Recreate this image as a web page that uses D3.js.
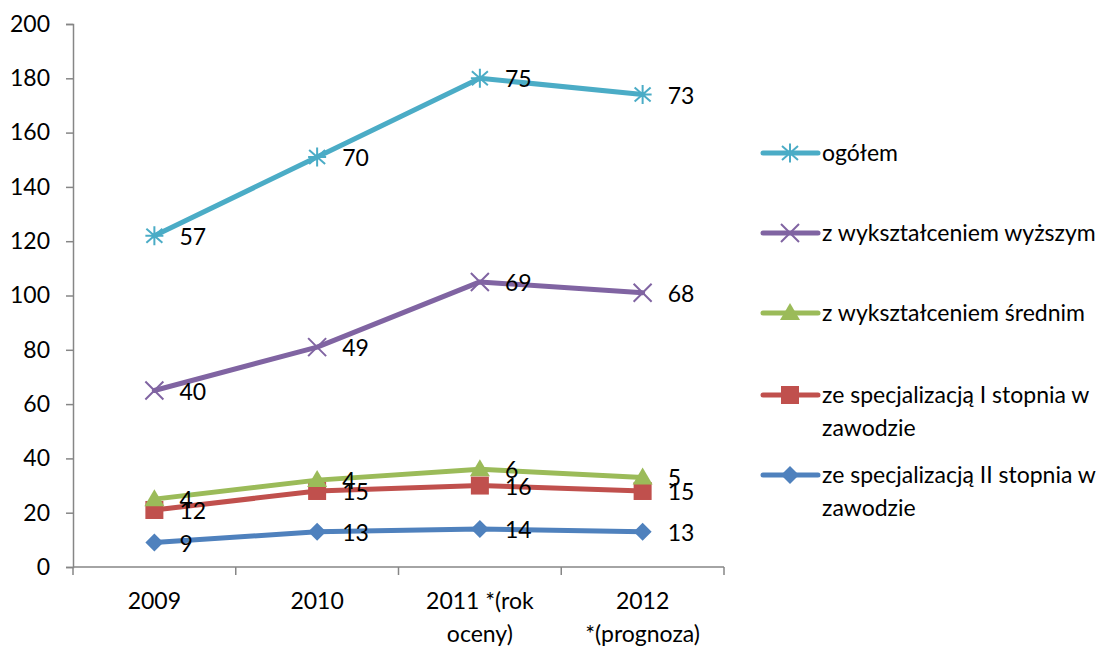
<!DOCTYPE html>
<html>
<head>
<meta charset="utf-8">
<script src="https://cdn.jsdelivr.net/npm/d3@7/dist/d3.min.js"></script>
<style>
  html, body { margin: 0; padding: 0; background: #fff; }
  svg { display: block; font-family: Lato, "Noto Sans", sans-serif; }
  text { fill: #000; font-size: 23px; }
</style>
</head>
<body>
<svg id="chart" width="1119" height="648"></svg>
<script>
// Categories (years) and their axis labels (split into lines)
const categories = ["2009", "2010", "2011", "2012"];
const categoryLabels = [["2009"], ["2010"], ["2011 *(rok", "oceny)"], ["2012", "*(prognoza)"]];

// Series values, stacked from bottom to top
const spec2 = [9, 13, 14, 13];      // ze specjalizacją II stopnia w zawodzie
const spec1 = [12, 15, 16, 15];     // ze specjalizacją I stopnia w zawodzie
const srednie = [4, 4, 6, 5];       // z wykształceniem średnim
const wyzsze = [40, 49, 69, 68];    // z wykształceniem wyższym
const ogolem = [57, 70, 75, 73];    // ogółem

const yTicks = [0, 20, 40, 60, 80, 100, 120, 140, 160, 180, 200];

const series = [
  { key: "spec2", name: ["ze specjalizacją II stopnia w", "zawodzie"], values: spec2, color: "#4F81BD", marker: "diamond" },
  { key: "spec1", name: ["ze specjalizacją I stopnia w", "zawodzie"], values: spec1, color: "#C0504D", marker: "square" },
  { key: "srednie", name: ["z wykształceniem średnim"], values: srednie, color: "#9BBB59", marker: "triangle" },
  { key: "wyzsze", name: ["z wykształceniem wyższym"], values: wyzsze, color: "#8064A2", marker: "x" },
  { key: "ogolem", name: ["ogółem"], values: ogolem, color: "#4BACC6", marker: "star" }
];

const table = categories.map((c, i) => {
  const row = { cat: c };
  series.forEach(s => { row[s.key] = s.values[i]; });
  return row;
});
const stacked = d3.stack().keys(series.map(s => s.key))(table);

const svg = d3.select("#chart");
const axisColor = "#868686";

const x = d3.scaleBand().domain(categories).range([73, 724]).padding(0);
const y = d3.scaleLinear().domain([0, 200]).range([567, 24]);
const cx = c => x(c) + x.bandwidth() / 2;

// Y axis
const yAxis = svg.append("g")
  .attr("transform", "translate(73,0)")
  .call(d3.axisLeft(y).tickValues(yTicks).tickSize(7).tickPadding(16).tickFormat(d3.format("d")));
yAxis.select(".domain").attr("stroke", axisColor).attr("stroke-width", 1.5);
yAxis.selectAll(".tick line").attr("stroke", axisColor).attr("stroke-width", 1.5);
yAxis.selectAll(".tick text").attr("font-size", 23).attr("font-family", "Lato").attr("fill", "#000");

// X axis: line, boundary ticks, multi-line labels
const xAxis = svg.append("g");
xAxis.append("line")
  .attr("x1", x.range()[0]).attr("x2", x.range()[1])
  .attr("y1", y(0)).attr("y2", y(0))
  .attr("stroke", axisColor).attr("stroke-width", 1.5);
const boundaries = categories.map(c => x(c)).concat([x.range()[1]]);
xAxis.selectAll("line.tick").data(boundaries).join("line")
  .attr("class", "tick")
  .attr("x1", d => d).attr("x2", d => d)
  .attr("y1", y(0)).attr("y2", y(0) + 8)
  .attr("stroke", axisColor).attr("stroke-width", 1.5);
xAxis.selectAll("text.cat").data(categories).join("text")
  .attr("class", "cat")
  .attr("text-anchor", "middle")
  .attr("x", d => cx(d))
  .attr("y", 609)
  .each(function(d, i) {
    d3.select(this).selectAll("tspan").data(categoryLabels[i]).join("tspan")
      .attr("x", cx(d))
      .attr("dy", (t, j) => j === 0 ? 0 : 33)
      .text(t => t);
  });

// Marker drawing
function drawMarker(g, type, color) {
  if (type === "diamond") {
    g.append("path").attr("d", "M0,-9L9,0L0,9L-9,0Z").attr("fill", color);
  } else if (type === "square") {
    g.append("rect").attr("x", -9).attr("y", -9).attr("width", 18).attr("height", 18).attr("fill", color);
  } else if (type === "triangle") {
    g.append("path").attr("d", "M0,-10L10,7L-10,7Z").attr("fill", color);
  } else if (type === "x") {
    g.append("path").attr("d", "M-9,-9L9,9M-9,9L9,-9").attr("stroke", color).attr("stroke-width", 2).attr("fill", "none");
  } else if (type === "star") {
    g.append("path").attr("d", "M0,-9.5L0,9.5M-8,-7L8,7M-8,7L8,-7M-9,0L9,0").attr("stroke", color).attr("stroke-width", 2).attr("fill", "none");
  }
}

const line = d3.line().x(d => cx(d.data.cat)).y(d => y(d[1]));

// Lines and markers
stacked.forEach((layer, si) => {
  const s = series[si];
  const g = svg.append("g");
  g.append("path").datum(layer)
    .attr("d", line)
    .attr("fill", "none")
    .attr("stroke", s.color)
    .attr("stroke-width", 5)
    .attr("stroke-linejoin", "round")
    .attr("stroke-linecap", "round");
  layer.forEach(d => {
    const m = g.append("g").attr("transform", `translate(${cx(d.data.cat)},${y(d[1])})`);
    drawMarker(m, s.marker, s.color);
  });
});
// Value labels drawn on top of everything
stacked.forEach((layer, si) => {
  const s = series[si];
  svg.append("g").selectAll("text").data(layer).join("text")
    .attr("x", d => cx(d.data.cat) + 25)
    .attr("y", d => y(d[1]) + 9)
    .text((d, i) => s.values[i]);
});

// Legend (top to bottom: reverse of stacking order)
const legendY = [153, 233, 313, 395, 475];
const legendSeries = series.slice().reverse();
legendSeries.forEach((s, i) => {
  const g = svg.append("g").attr("transform", `translate(0,${legendY[i]})`);
  g.append("line").attr("x1", 763).attr("x2", 818).attr("y1", 0).attr("y2", 0)
    .attr("stroke", s.color).attr("stroke-width", 5).attr("stroke-linecap", "round");
  const m = g.append("g").attr("transform", "translate(790,0)");
  drawMarker(m, s.marker, s.color);
  const t = g.append("text").attr("x", 822).attr("y", 8).attr("font-size", 24);
  t.selectAll("tspan").data(s.name).join("tspan")
    .attr("x", 822)
    .attr("dy", (d, j) => j === 0 ? 0 : 33)
    .text(d => d);
});
</script>
</body>
</html>
